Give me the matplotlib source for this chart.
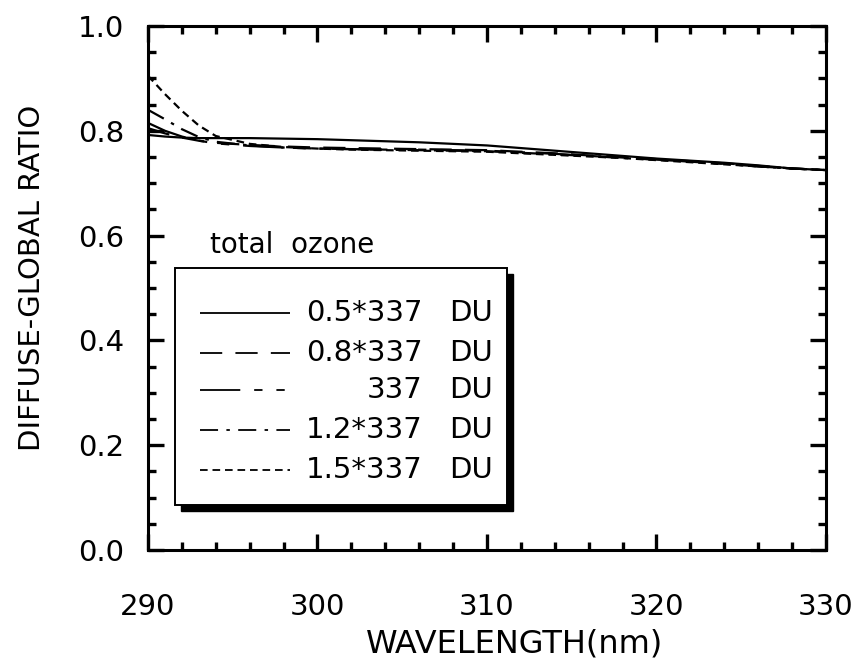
import matplotlib
matplotlib.use("Agg")
import matplotlib.pyplot as plt
import matplotlib.patches as mpatches
from matplotlib.lines import Line2D
from matplotlib.ticker import MultipleLocator

plt.rcParams["font.family"] = ["DejaVu Sans"]
plt.rcParams["lines.scale_dashes"] = False

wavelength = [290, 291, 292, 293, 294, 296, 298, 300, 302, 304, 306, 308, 310,
              312, 314, 316, 318, 320, 322, 324, 326, 328, 330]

ratio_05 = [0.792, 0.789, 0.787, 0.786, 0.786, 0.786, 0.785, 0.784, 0.782, 0.780,
            0.778, 0.775, 0.772, 0.767, 0.762, 0.757, 0.752, 0.747, 0.743, 0.739,
            0.734, 0.728, 0.725]
ratio_08 = [0.805, 0.795, 0.787, 0.781, 0.777, 0.773, 0.770, 0.768, 0.767, 0.766,
            0.765, 0.764, 0.763, 0.760, 0.757, 0.753, 0.750, 0.746, 0.742, 0.738,
            0.733, 0.728, 0.725]
ratio_10 = [0.815, 0.800, 0.789, 0.781, 0.776, 0.771, 0.768, 0.766, 0.765, 0.764,
            0.764, 0.763, 0.762, 0.759, 0.756, 0.752, 0.749, 0.745, 0.741, 0.737,
            0.732, 0.728, 0.725]
ratio_12 = [0.840, 0.822, 0.803, 0.788, 0.779, 0.772, 0.768, 0.766, 0.765, 0.764,
            0.763, 0.762, 0.761, 0.758, 0.755, 0.752, 0.748, 0.745, 0.741, 0.737,
            0.732, 0.728, 0.725]
ratio_15 = [0.905, 0.870, 0.838, 0.810, 0.790, 0.775, 0.769, 0.766, 0.764, 0.763,
            0.762, 0.761, 0.760, 0.757, 0.754, 0.751, 0.748, 0.744, 0.740, 0.736,
            0.732, 0.728, 0.725]

series = [ratio_05, ratio_08, ratio_10, ratio_12, ratio_15]
factors = ["0.5*337", "0.8*337", "337", "1.2*337", "1.5*337"]
units = ["DU", "DU", "DU", "DU", "DU"]
dash_styles = [
    (0, ()),
    (0, (16, 9.5)),
    (0, (29, 10, 6, 10, 6, 10)),
    (0, (13, 6, 2.5, 6)),
    (0, (5.5, 3.5)),
]

fig = plt.figure(figsize=(8.62, 6.66), dpi=100)
ax = fig.add_axes([0.1717, 0.1742, 0.7865, 0.7868])

for vals, ls in zip(series, dash_styles):
    ax.plot(wavelength, vals, color="black", linewidth=1.6, linestyle=ls)

ax.set_xlim(290, 330)
ax.set_ylim(0.0, 1.0)
ax.xaxis.set_major_locator(MultipleLocator(10))
ax.xaxis.set_minor_locator(MultipleLocator(2))
ax.yaxis.set_major_locator(MultipleLocator(0.2))
ax.yaxis.set_minor_locator(MultipleLocator(0.05))
ax.yaxis.set_major_formatter(lambda v, p: f"{v:.1f}")
ax.tick_params(which="both", direction="in", top=True, right=True,
               width=2.4, labelsize=21)
ax.tick_params(which="major", length=11.5)
ax.tick_params(which="minor", length=5.8)
ax.tick_params(axis="x", pad=31)
ax.tick_params(axis="y", pad=17)
for sp in ax.spines.values():
    sp.set_linewidth(2.2)

ax.set_xlabel("WAVELENGTH(nm)", fontsize=23)
ax.set_ylabel("DIFFUSE-GLOBAL RATIO", fontsize=21)
ax.xaxis.set_label_coords(0.541, -0.150)
ax.yaxis.set_label_coords(-0.150, 0.519)

# hand-drawn legend box with drop shadow, in axes coordinates
bx0, bx1, by0, by1 = 0.0398, 0.5295, 0.0859, 0.538
sdx, sdy = 0.009, 0.0115
ax.add_patch(mpatches.Rectangle((bx0 + sdx, by0 - sdy), bx1 - bx0, by1 - by0,
                                transform=ax.transAxes, facecolor="black",
                                edgecolor="black", zorder=5))
ax.add_patch(mpatches.Rectangle((bx0, by0), bx1 - bx0, by1 - by0,
                                transform=ax.transAxes, facecolor="white",
                                edgecolor="black", linewidth=1.4, zorder=6))
ax.text(0.092, 0.582, "total  ozone", transform=ax.transAxes, fontsize=20,
        ha="left", va="center", zorder=7)

row_y = [0.4523, 0.376, 0.305, 0.229, 0.1527]
for yy, ls, fac, unit in zip(row_y, dash_styles, factors, units):
    ax.add_line(Line2D([0.0767, 0.2094], [yy, yy], transform=ax.transAxes,
                       color="black", linewidth=1.3, linestyle=ls, zorder=7))
    ax.text(0.4056, yy, fac, transform=ax.transAxes, fontsize=21,
            ha="right", va="center", zorder=7)
    ax.text(0.5088, yy, unit, transform=ax.transAxes, fontsize=21,
            ha="right", va="center", zorder=7)

fig.savefig("out.png", dpi=100, facecolor="white")
